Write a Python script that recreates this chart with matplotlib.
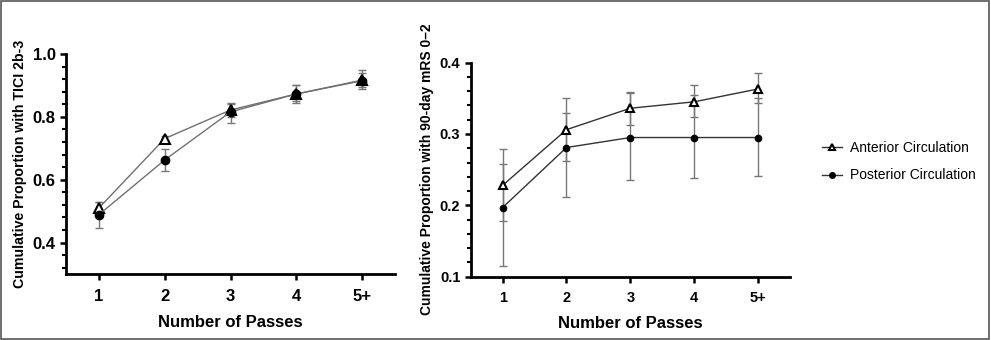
import numpy as np
import matplotlib
matplotlib.use('Agg')
import matplotlib.pyplot as plt
from matplotlib.ticker import MultipleLocator, FixedLocator
from matplotlib.lines import Line2D
from matplotlib.patches import Rectangle

plt.rcParams['font.family'] = ['Liberation Sans', 'DejaVu Sans']

passes = ['1', '2', '3', '4', '5+']

# TICI 2b-3 (left panel)
tici_ant = [0.510, 0.731, 0.822, 0.873, 0.917]
tici_ant_lo = [0.492, 0.722, 0.800, 0.850, 0.895]
tici_ant_hi = [0.529, 0.740, 0.845, 0.903, 0.949]
tici_post = [0.489, 0.663, 0.816, 0.873, 0.915]
tici_post_lo = [0.447, 0.629, 0.782, 0.843, 0.889]
tici_post_hi = [0.530, 0.698, 0.840, 0.900, 0.940]

# 90-day mRS 0-2 (right panel)
mrs_ant = [0.228, 0.306, 0.336, 0.345, 0.363]
mrs_ant_lo = [0.178, 0.262, 0.313, 0.324, 0.343]
mrs_ant_hi = [0.279, 0.351, 0.359, 0.368, 0.385]
mrs_post = [0.197, 0.281, 0.295, 0.295, 0.295]
mrs_post_lo = [0.115, 0.212, 0.236, 0.238, 0.241]
mrs_post_hi = [0.258, 0.330, 0.358, 0.354, 0.350]


def yerr(v, lo, hi):
    v = np.array(v)
    return [v - np.array(lo), np.array(hi) - v]


def style_axis(ax, tick_fs):
    for s in ['top', 'right']:
        ax.spines[s].set_visible(False)
    for s in ['left', 'bottom']:
        ax.spines[s].set_linewidth(2)
    ax.tick_params(which='major', length=4.5, width=1.8, labelsize=tick_fs, pad=3)
    ax.tick_params(axis='x', which='major', pad=6)
    ax.tick_params(which='minor', length=2.8, width=1.5)
    ax.tick_params(axis='x', which='minor', bottom=False)
    for lab in ax.get_xticklabels() + ax.get_yticklabels():
        lab.set_fontweight('bold')


fig = plt.figure(figsize=(9.91, 3.40), dpi=100)
x = np.arange(1, len(passes) + 1)

# left panel
ax1 = fig.add_axes([0.0666, 0.194, 0.332, 0.647])
ax1.errorbar(x, tici_ant, yerr=yerr(tici_ant, tici_ant_lo, tici_ant_hi), color='#777777',
             lw=1, capsize=3, capthick=1, fmt='none', zorder=1)
ax1.errorbar(x, tici_post, yerr=yerr(tici_post, tici_post_lo, tici_post_hi), color='#777777',
             lw=1, capsize=3, capthick=1, fmt='none', zorder=1)
ax1.plot(x, tici_ant, color='#707070', lw=1, marker='^', ms=7, mfc='white', mec='black',
         mew=1.5, zorder=2)
ax1.plot(x, tici_post, color='#707070', lw=1, marker='o', ms=6, mfc='black', mec='black',
         zorder=3)
ax1.set_xlim(0.5, 5.5)
ax1.set_ylim(0.3, 1.0)
ax1.set_xticks(x)
ax1.set_xticklabels(passes)
ax1.yaxis.set_major_locator(FixedLocator([0.4, 0.6, 0.8, 1.0]))
ax1.yaxis.set_minor_locator(MultipleLocator(0.04))
ax1.yaxis.set_major_formatter(matplotlib.ticker.FormatStrFormatter('%.1f'))
style_axis(ax1, 12)
ax1.set_xlabel('Number of Passes', fontsize=12, fontweight='bold', labelpad=8)
ax1.set_ylabel('Cumulative Proportion with TICI 2b-3', fontsize=10.2, fontweight='bold', labelpad=4)

# right panel
ax2 = fig.add_axes([0.475, 0.186, 0.322, 0.630])
ax2.errorbar(x, mrs_ant, yerr=yerr(mrs_ant, mrs_ant_lo, mrs_ant_hi), color='#777777',
             lw=1, capsize=3, capthick=1, fmt='none', zorder=1)
ax2.errorbar(x, mrs_post, yerr=yerr(mrs_post, mrs_post_lo, mrs_post_hi), color='#777777',
             lw=1, capsize=3, capthick=1, fmt='none', zorder=1)
ax2.plot(x, mrs_ant, color='#333333', lw=1, marker='^', ms=6, mfc='white', mec='black',
         mew=1.5, zorder=2)
ax2.plot(x, mrs_post, color='#333333', lw=1, marker='o', ms=4.5, mfc='black', mec='black',
         zorder=3)
ax2.set_xlim(0.5, 5.5)
ax2.set_ylim(0.1, 0.4)
ax2.set_xticks(x)
ax2.set_xticklabels(passes)
ax2.yaxis.set_major_locator(MultipleLocator(0.1))
ax2.yaxis.set_minor_locator(MultipleLocator(0.02))
ax2.yaxis.set_major_formatter(matplotlib.ticker.FormatStrFormatter('%.1f'))
style_axis(ax2, 10.5)
ax2.set_xlabel('Number of Passes', fontsize=12, fontweight='bold', labelpad=8)
ax2.set_ylabel('Cumulative Proportion with 90-day mRS 0\u20132', fontsize=10,
               fontweight='bold', labelpad=4)

handles = [
    Line2D([], [], color='#333333', lw=1, marker='^', ms=5, mfc='white', mec='black', mew=1.5),
    Line2D([], [], color='#333333', lw=1, marker='o', ms=4, mfc='black', mec='black'),
]
fig.legend(handles, ['Anterior Circulation', 'Posterior Circulation'],
           loc='center left', bbox_to_anchor=(0.817, 0.525), frameon=False,
           fontsize=10, handlelength=1.4, handletextpad=0.6, labelspacing=1.0)

fig.patches.append(Rectangle((0.001, 0.002), 0.997, 0.995, transform=fig.transFigure,
                             fill=False, edgecolor='#555555', lw=1.2))

fig.savefig('out.png', dpi=100)
